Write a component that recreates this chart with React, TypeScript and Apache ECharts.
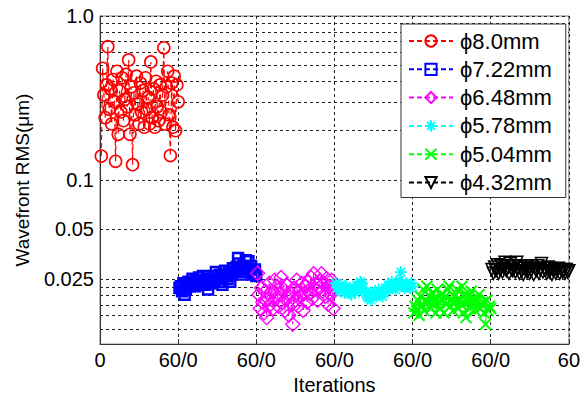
import { useEffect, useRef } from "react";
import * as echarts from "echarts";

// Each aperture run is 60 iterations; the runs are laid end to end on the x axis.
const runLength = 60;
const xTickValues = [0, 60, 120, 180, 240, 300, 360];
const yLabelValues = [0.025, 0.05, 0.1, 1];
const yGridValues = [
  0.0123, 0.0149, 0.0173, 0.0199, 0.0222, 0.025, 0.05, 0.1,
  0.2, 0.3, 0.4, 0.5, 0.6, 0.7, 0.8, 0.9, 1,
];

const apertureNames = ["ϕ8.0mm", "ϕ7.22mm", "ϕ6.48mm", "ϕ5.78mm", "ϕ5.04mm", "ϕ4.32mm"];

const rms80 = [
  0.14, 0.48, 0.33, 0.24, 0.38, 0.65, 0.27, 0.36, 0.22, 0.41,
  0.3, 0.13, 0.46, 0.19, 0.35, 0.26, 0.42, 0.23, 0.31, 0.44,
  0.28, 0.54, 0.19, 0.37, 0.124, 0.34, 0.25, 0.43, 0.29, 0.22,
  0.39, 0.26, 0.35, 0.21, 0.42, 0.27, 0.32, 0.22, 0.525, 0.24,
  0.36, 0.21, 0.4, 0.28, 0.23, 0.38, 0.26, 0.33, 0.64, 0.22,
  0.37, 0.46, 0.25, 0.141, 0.39, 0.21, 0.43, 0.2, 0.38, 0.3,
];
const rms722 = [
  0.022, 0.0225, 0.021, 0.0235, 0.02, 0.0215, 0.023, 0.024, 0.0225, 0.0235,
  0.025, 0.024, 0.0225, 0.0245, 0.023, 0.0255, 0.024, 0.0235, 0.026, 0.0245,
  0.023, 0.025, 0.0215, 0.024, 0.0235, 0.025, 0.026, 0.0245, 0.0275, 0.025,
  0.024, 0.0265, 0.0255, 0.023, 0.0265, 0.028, 0.026, 0.025, 0.0275, 0.024,
  0.0265, 0.029, 0.028, 0.0275, 0.0295, 0.0335, 0.031, 0.0285, 0.0265, 0.03,
  0.029, 0.0325, 0.0275, 0.032, 0.0285, 0.03, 0.0265, 0.027, 0.0285, 0.026,
];
const rms648 = [
  0.027, 0.02, 0.0165, 0.022, 0.018, 0.0155, 0.021, 0.0145, 0.019, 0.0235,
  0.0175, 0.021, 0.0165, 0.0245, 0.019, 0.0225, 0.017, 0.02, 0.0255, 0.018,
  0.0215, 0.016, 0.023, 0.019, 0.015, 0.0205, 0.0175, 0.0132, 0.022, 0.0185,
  0.0245, 0.017, 0.021, 0.0195, 0.0235, 0.016, 0.0205, 0.0225, 0.018, 0.024,
  0.0205, 0.0255, 0.019, 0.0268, 0.0215, 0.0235, 0.0185, 0.022, 0.0245, 0.0268,
  0.021, 0.0235, 0.0195, 0.025, 0.0175, 0.0225, 0.02, 0.0245, 0.0165, 0.022,
];
const rms578 = [
  0.0235, 0.022, 0.0225, 0.021, 0.023, 0.0215, 0.022, 0.0205, 0.0225, 0.021,
  0.0215, 0.0205, 0.02, 0.0215, 0.022, 0.0205, 0.023, 0.0215, 0.0225, 0.024,
  0.0235, 0.022, 0.021, 0.0205, 0.0195, 0.019, 0.02, 0.0185, 0.0195, 0.0205,
  0.021, 0.0195, 0.02, 0.0215, 0.02, 0.0205, 0.0195, 0.021, 0.022, 0.0215,
  0.023, 0.0215, 0.0225, 0.024, 0.0225, 0.023, 0.0215, 0.0225, 0.0235, 0.0245,
  0.0275, 0.023, 0.0225, 0.022, 0.0235, 0.0225, 0.023, 0.022, 0.0235, 0.0225,
];
const rms504 = [
  0.0155, 0.017, 0.016, 0.0185, 0.015, 0.0195, 0.017, 0.0215, 0.016, 0.0185,
  0.0225, 0.018, 0.0195, 0.0165, 0.0205, 0.0175, 0.019, 0.0155, 0.0215, 0.018,
  0.0165, 0.02, 0.0185, 0.0155, 0.0195, 0.0175, 0.0215, 0.0225, 0.017, 0.0185,
  0.016, 0.0195, 0.018, 0.0215, 0.0165, 0.019, 0.0175, 0.0225, 0.0155, 0.02,
  0.0145, 0.018, 0.0195, 0.0165, 0.021, 0.0175, 0.019, 0.016, 0.0185, 0.017,
  0.02, 0.0165, 0.0175, 0.018, 0.0155, 0.0132, 0.0185, 0.016, 0.017, 0.0165,
];
const rms432 = [
  0.0285, 0.027, 0.0295, 0.028, 0.0305, 0.027, 0.0285, 0.03, 0.0275, 0.029,
  0.0315, 0.028, 0.0295, 0.027, 0.031, 0.0285, 0.028, 0.03, 0.0275, 0.0315,
  0.029, 0.027, 0.0295, 0.028, 0.0265, 0.029, 0.03, 0.0275, 0.0285, 0.027,
  0.028, 0.0295, 0.0265, 0.029, 0.028, 0.03, 0.027, 0.0285, 0.031, 0.0275,
  0.029, 0.028, 0.027, 0.0295, 0.0275, 0.029, 0.0265, 0.028, 0.0285, 0.027,
  0.028, 0.029, 0.027, 0.0285, 0.0275, 0.028, 0.027, 0.0285, 0.0275, 0.028,
];

const runs = [rms80, rms722, rms648, rms578, rms504, rms432];

const FONT = "'Liberation Sans', Arial, sans-serif";

const markerStyles = [
  { color: "#ff0000", symbol: "circle", size: 12, width: 1.6 },
  { color: "#0000ff", symbol: "rect", size: 10, width: 2.4 },
  { color: "#ff00ff", symbol: "diamond", size: 14, width: 1.4 },
  {
    color: "#00ffff",
    symbol: "path://M5,0L5,10M0,5L10,5M1.5,1.5L8.5,8.5M1.5,8.5L8.5,1.5",
    size: 12,
    width: 1.8,
  },
  { color: "#00ff00", symbol: "path://M0,0L10,10M0,10L10,0", size: 11, width: 2 },
  { color: "#000000", symbol: "path://M0,0L10,0L5,9Z", size: 12, width: 1.5 },
];

export default function App() {
  const ref = useRef<HTMLDivElement>(null);

  useEffect(() => {
    if (!ref.current) return;
    const chart = echarts.init(ref.current, undefined, { renderer: "svg" });

    const series = runs.map((values, k) => {
      const m = markerStyles[k];
      return {
        name: apertureNames[k],
        type: "line",
        data: values.map((v, i) => [k * runLength + i + 1, v]),
        symbol: m.symbol,
        symbolSize: m.size,
        showAllSymbol: true,
        clip: false,
        lineStyle: { color: m.color, width: 1.2, type: [5, 3] },
        itemStyle: { color: "transparent", borderColor: m.color, borderWidth: m.width },
        emphasis: { disabled: true },
        z: 3 + k,
      };
    });

    chart.setOption({
      animation: false,
      textStyle: { fontFamily: FONT },
      grid: {
        left: 100,
        right: 12,
        top: 16,
        bottom: 48,
        show: true,
        borderColor: "#777",
        borderWidth: 1,
        backgroundColor: "transparent",
      },
      legend: {
        left: 401,
        top: 24,
        orient: "vertical",
        itemWidth: 44,
        itemHeight: 14,
        itemGap: 6.3,
        padding: [6, 14, 4, 7],
        backgroundColor: "#ffffff",
        borderColor: "#333",
        borderWidth: 1,
        borderRadius: 0,
        textStyle: { fontFamily: FONT, fontSize: 22, color: "#000", lineHeight: 20, padding: [0, 0, 0, 2] },
        data: apertureNames,
      },
      xAxis: {
        type: "value",
        min: 0,
        max: 360,
        interval: 60,
        name: "Iterations",
        nameLocation: "middle",
        nameGap: 25,
        nameTextStyle: { fontFamily: FONT, fontSize: 20, color: "#000", verticalAlign: "top" },
        axisLine: { lineStyle: { color: "#333", width: 1 } },
        axisTick: { show: true, inside: true, length: 5, lineStyle: { color: "#333" } },
        axisLabel: {
          margin: 6,
          fontFamily: FONT,
          fontSize: 20,
          color: "#000",
          customValues: xTickValues,
          formatter: (v: number) => (v === 0 ? "0" : v === 360 ? "60" : "60/0"),
        },
        splitLine: { show: true, lineStyle: { color: "#222", type: [3, 3], width: 1 } },
      },
      yAxis: {
        type: "log",
        logBase: 10,
        min: 0.01,
        max: 1,
        name: "Wavefront RMS(μm)",
        nameLocation: "middle",
        nameGap: 68,
        nameTextStyle: { fontFamily: FONT, fontSize: 19, color: "#000" },
        axisLine: { show: true, lineStyle: { color: "#333", width: 1 } },
        axisTick: { show: false, customValues: yGridValues },
        axisLabel: {
          margin: 6,
          fontFamily: FONT,
          fontSize: 20,
          color: "#000",
          customValues: yLabelValues,
          formatter: (v: number) => (v === 1 ? "1.0" : String(v)),
        },
        splitLine: { show: true, lineStyle: { color: "#222", type: [3, 3], width: 1 } },
        minorSplitLine: { show: false },
      },
      series,
    });

    return () => chart.dispose();
  }, []);

  return (
    <div
      ref={ref}
      style={{ position: "fixed", left: 0, top: 0, width: 583, height: 400, background: "#fff" }}
    />
  );
}
